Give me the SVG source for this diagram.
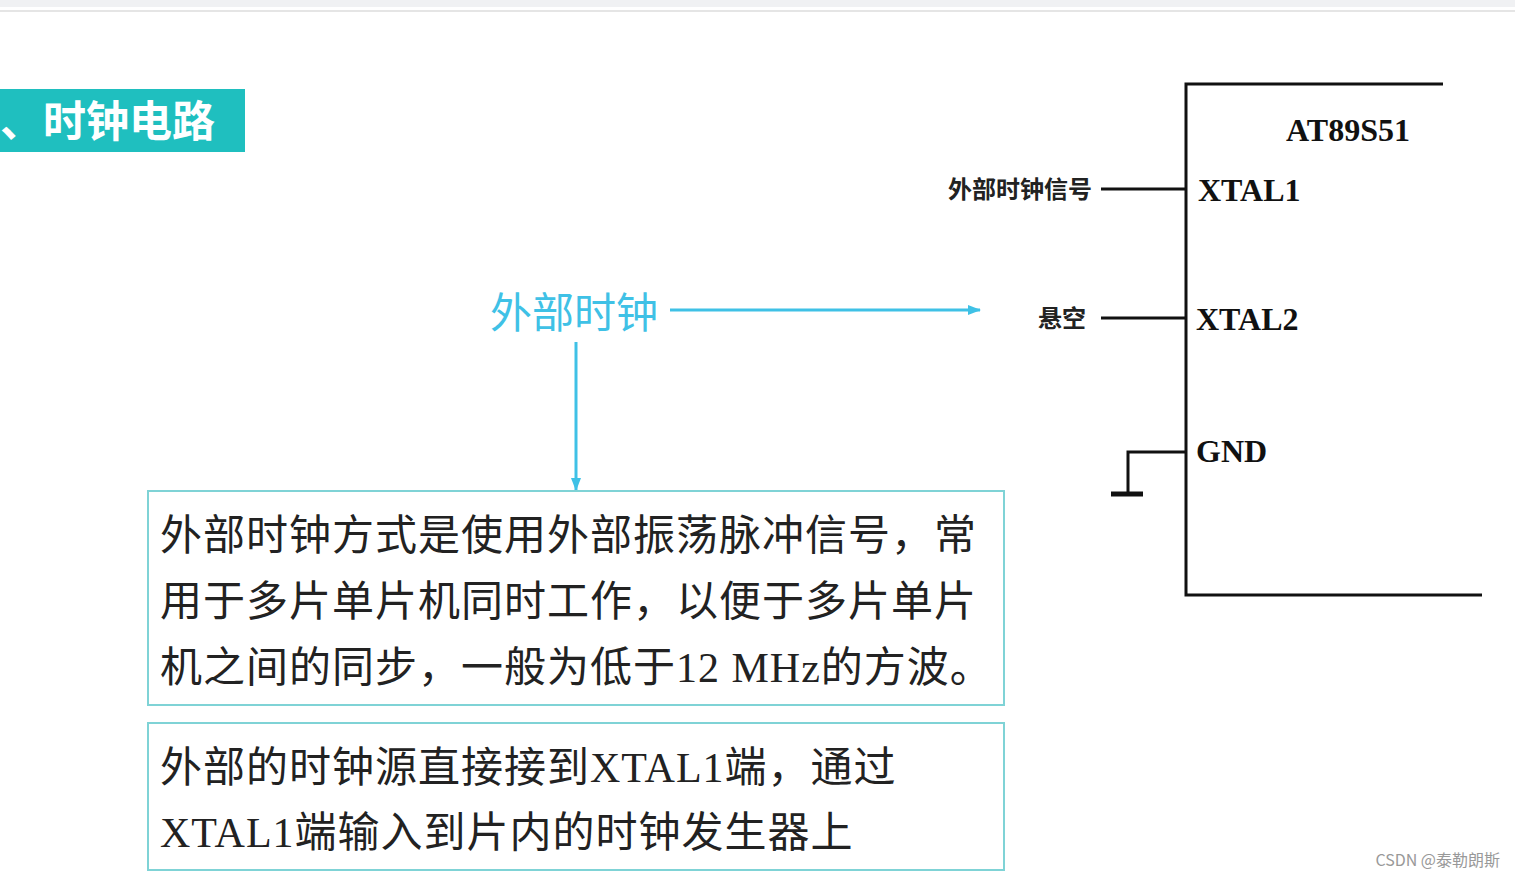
<svg xmlns="http://www.w3.org/2000/svg" width="1515" height="878" viewBox="0 0 1515 878">
<defs>
<style>
.cn{font-family:"Noto Sans CJK SC","Liberation Serif",sans-serif}
.tm{font-family:"Liberation Serif","Noto Sans CJK SC",serif;font-weight:bold;fill:#111}
.ln{stroke:#111;stroke-width:3;fill:none}
.bl{stroke:#3fc1e6;stroke-width:3;fill:none}
.box{fill:#fff;stroke:#7fd3d6;stroke-width:2}
.body{font-family:"Liberation Serif","Noto Sans CJK SC",serif;font-size:42px;letter-spacing:1px;fill:#222}
</style>
<marker id="ar" markerWidth="14" markerHeight="12" refX="12" refY="6" orient="auto" markerUnits="userSpaceOnUse"><path d="M0,1 L13,6 L0,11 Z" fill="#3fc1e6"/></marker>
</defs>
<rect width="1515" height="878" fill="#fff"/>
<rect width="1515" height="7" fill="#f0f1f3"/>
<line x1="0" y1="11" x2="1515" y2="11" stroke="#ddd" stroke-width="1.5"/>
<g id="title"><rect x="0" y="89" width="245" height="63" fill="#1fbfbf"/>
<text x="0" y="137" class="cn" font-size="43" font-weight="bold" fill="#fff">、时钟电路</text></g>
<g id="chip">
<path class="ln" d="M1443,84 H1186 V595 H1482"/>
<text x="1348" y="141" class="tm" font-size="32" text-anchor="middle">AT89S51</text>
<text x="1198" y="201" class="tm" font-size="32">XTAL1</text>
<text x="1196" y="330" class="tm" font-size="32">XTAL2</text>
<text x="1196" y="462" class="tm" font-size="32">GND</text>
</g>
<g id="pins">
<line class="ln" x1="1101" y1="189" x2="1186" y2="189"/>
<line class="ln" x1="1101" y1="318" x2="1186" y2="318"/>
<path class="ln" d="M1186,452 H1128 V494"/>
<line x1="1111" y1="494" x2="1143" y2="494" stroke="#111" stroke-width="5"/>
<text x="1092" y="198" class="cn" font-size="24" font-weight="bold" fill="#222" text-anchor="end">外部时钟信号</text>
<text x="1086" y="327" class="cn" font-size="24" font-weight="bold" fill="#222" text-anchor="end">悬空</text>
</g>
<g id="extclk"><text x="574" y="328" class="cn" font-size="42" fill="#3fc1e6" text-anchor="middle">外部时钟</text></g>
<g id="connectors">
<line class="bl" x1="670" y1="310" x2="980" y2="310" marker-end="url(#ar)"/>
<line class="bl" x1="576" y1="342" x2="576" y2="490" marker-end="url(#ar)"/>
</g>
<g id="box1"><rect class="box" x="148" y="491" width="856" height="214"/>
<text class="body"><tspan x="160" y="550">外部时钟方式是使用外部振荡脉冲信号，常</tspan><tspan x="160" y="616">用于多片单片机同时工作，以便于多片单片</tspan><tspan x="160" y="682">机之间的同步，一般为低于12 MHz的方波。</tspan></text></g>
<g id="box2"><rect class="box" x="148" y="723" width="856" height="147"/>
<text class="body"><tspan x="160" y="782">外部的时钟源直接接到XTAL1端，通过</tspan><tspan x="160" y="847">XTAL1端输入到片内的时钟发生器上</tspan></text></g>
<text x="1500" y="866" font-family="Noto Sans CJK SC,sans-serif" font-size="16" fill="#999" text-anchor="end">CSDN @泰勒朗斯</text>
</svg>
